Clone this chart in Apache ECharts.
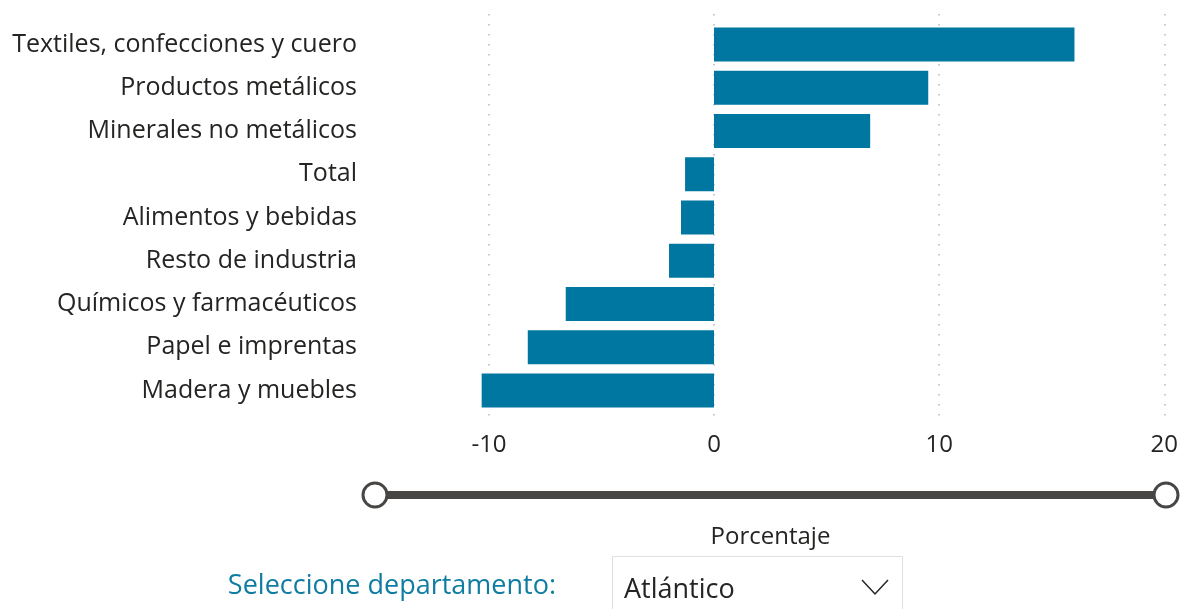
<!DOCTYPE html>
<html>
<head>
<meta charset="utf-8">
<script src="https://cdn.jsdelivr.net/npm/echarts@6/dist/echarts.min.js"></script>
<style>
  html, body { margin: 0; padding: 0; background: #fff; }
  #main { width: 1181px; height: 609px; }
</style>
</head>
<body>
<div id="main"></div>
<script>
// sectores (de abajo hacia arriba, como los pinta el eje de categorías)
var categorias = ['Madera y muebles', 'Papel e imprentas', 'Químicos y farmacéuticos',
  'Resto de industria', 'Alimentos y bebidas', 'Total',
  'Minerales no metálicos', 'Productos metálicos', 'Textiles, confecciones y cuero'];
var valores = [-10.28, -8.24, -6.56, -1.99, -1.46, -1.28, 6.91, 9.48, 15.95];
var rangoMin = -15, rangoMax = 20;
var marcas = [-10, 0, 10, 20];
var titulo = 'Porcentaje';
var departamento = 'Atlántico';

var fuente = '"Segoe UI", "Open Sans", sans-serif';
var myChart = echarts.init(document.getElementById('main'));

var option = {
  backgroundColor: '#fff',
  animation: false,
  grid: [
    { left: 375, right: 15, top: 23, bottom: 197 },
    // rejilla solo para las líneas punteadas y las etiquetas (-10..20)
    { left: 489, right: 15, top: 14, bottom: 185 }
  ],
  xAxis: [
    {
      type: 'value', gridIndex: 0, min: rangoMin, max: rangoMax,
      show: false, splitLine: { show: false }
    },
    {
      type: 'value', gridIndex: 1, min: marcas[0], max: marcas[marcas.length - 1], interval: 10,
      axisLine: { show: false }, axisTick: { show: false },
      axisLabel: { color: '#252423', fontSize: 24, fontFamily: fuente, margin: 9 },
      splitLine: { show: true, lineStyle: { color: '#b8b8b8', width: 1.5, type: [1.5, 8.5] } }
    }
  ],
  yAxis: [
    {
      type: 'category', gridIndex: 0, data: categorias,
      axisLine: { show: false }, axisTick: { show: false },
      axisLabel: { color: '#252423', fontSize: 25, fontFamily: fuente, margin: 18 }
    },
    { type: 'value', gridIndex: 1, show: false }
  ],
  series: [
    {
      type: 'bar', xAxisIndex: 0, yAxisIndex: 0,
      data: valores, barWidth: 34,
      itemStyle: { color: '#0077A0' }
    }
  ]
};
myChart.setOption(option);

// control deslizante, título y selector (elementos de la página)
var x0 = myChart.convertToPixel({ xAxisIndex: 0 }, rangoMin);
var x1 = myChart.convertToPixel({ xAxisIndex: 0 }, rangoMax);
var ys = 495;
myChart.setOption({
  graphic: [
    { type: 'line', shape: { x1: x0, y1: ys, x2: x1, y2: ys },
      style: { stroke: '#484644', lineWidth: 8 } },
    { type: 'circle', shape: { cx: x0, cy: ys, r: 12 },
      style: { fill: '#fff', stroke: '#484644', lineWidth: 3 } },
    { type: 'circle', shape: { cx: x1, cy: ys, r: 12 },
      style: { fill: '#fff', stroke: '#484644', lineWidth: 3 } },
    { type: 'text', x: (x0 + x1) / 2, y: 537,
      style: { text: titulo, fill: '#252423', font: '24px ' + fuente, align: 'center', verticalAlign: 'middle' } },
    { type: 'text', x: 556, y: 586,
      style: { text: 'Seleccione departamento:', fill: '#0F7CA2', font: '27px ' + fuente, align: 'right', verticalAlign: 'middle' } },
    { type: 'rect', shape: { x: 612.5, y: 556.5, width: 290, height: 60 },
      style: { fill: '#fff', stroke: '#e1dfdd', lineWidth: 1 } },
    { type: 'text', x: 624, y: 590,
      style: { text: departamento, fill: '#252423', font: '27px ' + fuente, align: 'left', verticalAlign: 'middle' } },
    { type: 'polyline', shape: { points: [[862, 580], [875, 594], [888, 580]] },
      style: { stroke: '#252423', lineWidth: 1.5, fill: null } }
  ]
});
</script>
</body>
</html>
